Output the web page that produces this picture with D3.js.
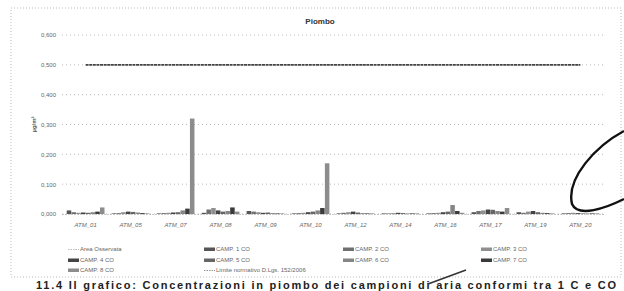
<!DOCTYPE html>
<html>
<head>
<meta charset="utf-8">
<script src="https://cdn.jsdelivr.net/npm/d3@7"></script>
<style>
  body { margin: 0; background: #fff; }
  text { font-family: "Liberation Sans", Arial, sans-serif; }
</style>
</head>
<body>
<div id="chart"></div>
<script>
const categories = ["ATM_01", "ATM_05", "ATM_07", "ATM_08", "ATM_09", "ATM_10",
                    "ATM_12", "ATM_14", "ATM_16", "ATM_17", "ATM_19", "ATM_20"];
const campaigns = ["CAMP. 1 CO", "CAMP. 2 CO", "CAMP. 3 CO", "CAMP. 4 CO",
                   "CAMP. 5 CO", "CAMP. 6 CO", "CAMP. 7 CO", "CAMP. 8 CO"];
const camp1 = [0.012, 0.002, 0.002, 0.004, 0.010, 0.002, 0.002, 0.002, 0.002, 0.006, 0.006, 0.002];
const camp2 = [0.006, 0.003, 0.003, 0.015, 0.008, 0.003, 0.004, 0.002, 0.003, 0.010, 0.004, 0.003];
const camp3 = [0.004, 0.006, 0.004, 0.020, 0.006, 0.004, 0.006, 0.003, 0.004, 0.012, 0.008, 0.004];
const camp4 = [0.005, 0.008, 0.005, 0.012, 0.004, 0.006, 0.008, 0.004, 0.006, 0.015, 0.010, 0.003];
const camp5 = [0.004, 0.007, 0.006, 0.008, 0.005, 0.008, 0.005, 0.003, 0.008, 0.014, 0.006, 0.002];
const camp6 = [0.006, 0.005, 0.012, 0.010, 0.003, 0.012, 0.003, 0.002, 0.030, 0.010, 0.004, 0.002];
const camp7 = [0.008, 0.003, 0.018, 0.022, 0.002, 0.020, 0.002, 0.002, 0.010, 0.008, 0.003, 0.002];
const camp8 = [0.022, 0.002, 0.320, 0.008, 0.002, 0.170, 0.002, 0.002, 0.004, 0.020, 0.002, 0.002];
const limitValues = [0.5, 0.5, 0.5, 0.5, 0.5, 0.5, 0.5, 0.5, 0.5, 0.5, 0.5, 0.5];
const yTicks = [0, 0.1, 0.2, 0.3, 0.4, 0.5, 0.6];
const title = "Piombo";
const yTitle = "µg/m³";
const areaLabel = "Area Osservata";
const limitLabel = "Limite normativo D.Lgs. 152/2006";
const caption = "11.4 Il grafico: Concentrazioni in piombo dei campioni di aria conformi tra 1 C e CO";

const series = [camp1, camp2, camp3, camp4, camp5, camp6, camp7, camp8];
const barColors = ["#555", "#707070", "#8f8f8f", "#444", "#666", "#858585", "#3a3a3a", "#8c8c8c"];

const W = 624, H = 291;
const plot = { left: 62, right: 604, top: 35, bottom: 214 };

const svg = d3.select("#chart").append("svg")
    .attr("width", W)
    .attr("height", H);

// chart frame (dotted, like the scanned Excel border)
svg.append("rect")
    .attr("x", 11).attr("y", 8)
    .attr("width", 610).attr("height", 269)
    .attr("fill", "none")
    .attr("stroke", "#aaa")
    .attr("stroke-width", 0.8)
    .attr("stroke-dasharray", "1,2");

const x = d3.scaleBand().domain(categories).range([plot.left, plot.right]).paddingInner(0.15).paddingOuter(0.1);
const xInner = d3.scaleBand().domain(campaigns).range([0, x.bandwidth()]).padding(0.05);
const y = d3.scaleLinear().domain([0, 0.6]).range([plot.bottom, plot.top]);

// gridlines
svg.append("g")
    .selectAll("line")
    .data(yTicks)
    .enter()
    .append("line")
    .attr("x1", plot.left)
    .attr("x2", plot.right)
    .attr("y1", d => y(d))
    .attr("y2", d => y(d))
    .attr("stroke", "#aaa")
    .attr("stroke-width", 0.8)
    .attr("stroke-dasharray", "1,3");

// y axis labels
const fmt = d => d3.format(".3f")(d).replace(".", ",");
const yAxis = svg.append("g")
    .attr("transform", `translate(${plot.left},0)`)
    .call(d3.axisLeft(y).tickValues(yTicks).tickFormat(fmt).tickSize(0).tickPadding(6));
yAxis.select(".domain").remove();
yAxis.selectAll("text").attr("font-size", 6).attr("fill", "#666");

svg.append("text")
    .attr("transform", `translate(36,${(plot.top + plot.bottom) / 2}) rotate(-90)`)
    .attr("text-anchor", "middle")
    .attr("font-size", 6)
    .attr("font-weight", "bold")
    .attr("fill", "#555")
    .text(yTitle);

// bars
const groups = svg.append("g")
    .selectAll("g")
    .data(series)
    .enter()
    .append("g")
    .attr("fill", (d, i) => barColors[i]);

groups.selectAll("rect")
    .data((d, i) => d.map((v, j) => ({ cat: categories[j], camp: campaigns[i], v })))
    .enter()
    .append("rect")
    .attr("x", d => x(d.cat) + xInner(d.camp))
    .attr("y", d => y(d.v))
    .attr("width", xInner.bandwidth())
    .attr("height", d => y(0) - y(d.v));

// x axis
const xAxis = svg.append("g")
    .attr("transform", `translate(0,${plot.bottom})`)
    .call(d3.axisBottom(x).tickSize(0).tickPadding(9));
xAxis.select(".domain")
    .attr("stroke", "#999")
    .attr("stroke-dasharray", "1,2");
xAxis.selectAll("text")
    .attr("font-size", 6)
    .attr("font-style", "italic")
    .attr("fill", "#666");

// regulatory limit line
const line = d3.line()
    .x((d, i) => x(categories[i]) + x.bandwidth() / 2)
    .y(d => y(d));

svg.append("path")
    .datum(limitValues)
    .attr("d", line)
    .attr("fill", "none")
    .attr("stroke", "#444")
    .attr("stroke-width", 1.8)
    .attr("stroke-dasharray", "3,0.6");

// title
svg.append("text")
    .attr("x", 320)
    .attr("y", 24)
    .attr("text-anchor", "middle")
    .attr("font-size", 8)
    .attr("font-weight", "bold")
    .attr("fill", "#333")
    .text(title);

// legend
const legendItems = [
    { label: areaLabel, type: "line", color: "#aaa" },
    { label: campaigns[0], type: "bar", color: barColors[0] },
    { label: campaigns[1], type: "bar", color: barColors[1] },
    { label: campaigns[2], type: "bar", color: barColors[2] },
    { label: campaigns[3], type: "bar", color: barColors[3] },
    { label: campaigns[4], type: "bar", color: barColors[4] },
    { label: campaigns[5], type: "bar", color: barColors[5] },
    { label: campaigns[6], type: "bar", color: barColors[6] },
    { label: campaigns[7], type: "bar", color: barColors[7] },
    { label: limitLabel, type: "line", color: "#777" }
];
const colX = [68, 204, 343, 481];
const rowY = [251, 262, 272];

const legend = svg.append("g");
legendItems.forEach((item, i) => {
    const lx = colX[i % 4], ly = rowY[Math.floor(i / 4)];
    if (item.type === "bar") {
        legend.append("rect")
            .attr("x", lx).attr("y", ly - 3.5)
            .attr("width", 11).attr("height", 3.5)
            .attr("fill", item.color);
    } else {
        legend.append("line")
            .attr("x1", lx).attr("x2", lx + 11)
            .attr("y1", ly - 1.5).attr("y2", ly - 1.5)
            .attr("stroke", item.color)
            .attr("stroke-width", 0.8)
            .attr("stroke-dasharray", "1.5,1");
    }
    legend.append("text")
        .attr("x", lx + 12)
        .attr("y", ly)
        .attr("font-size", 6)
        .attr("fill", "#666")
        .text(item.label);
});

// scanned page caption at the bottom edge
svg.append("text")
    .attr("x", 36)
    .attr("y", 289)
    .attr("font-size", 11)
    .attr("font-weight", "bold")
    .attr("fill", "#222")
    .attr("textLength", 580)
    .attr("lengthAdjust", "spacing")
    .text(caption);

// pen marks on the scan
svg.append("path")
    .attr("d", "M624,131 C596,146 566,178 572,204 C578,218 606,208 624,199")
    .attr("fill", "none")
    .attr("stroke", "#111")
    .attr("stroke-width", 2.4);
svg.append("path")
    .attr("d", "M428,284 L466,270")
    .attr("fill", "none")
    .attr("stroke", "#333")
    .attr("stroke-width", 1.5);
</script>
</body>
</html>
